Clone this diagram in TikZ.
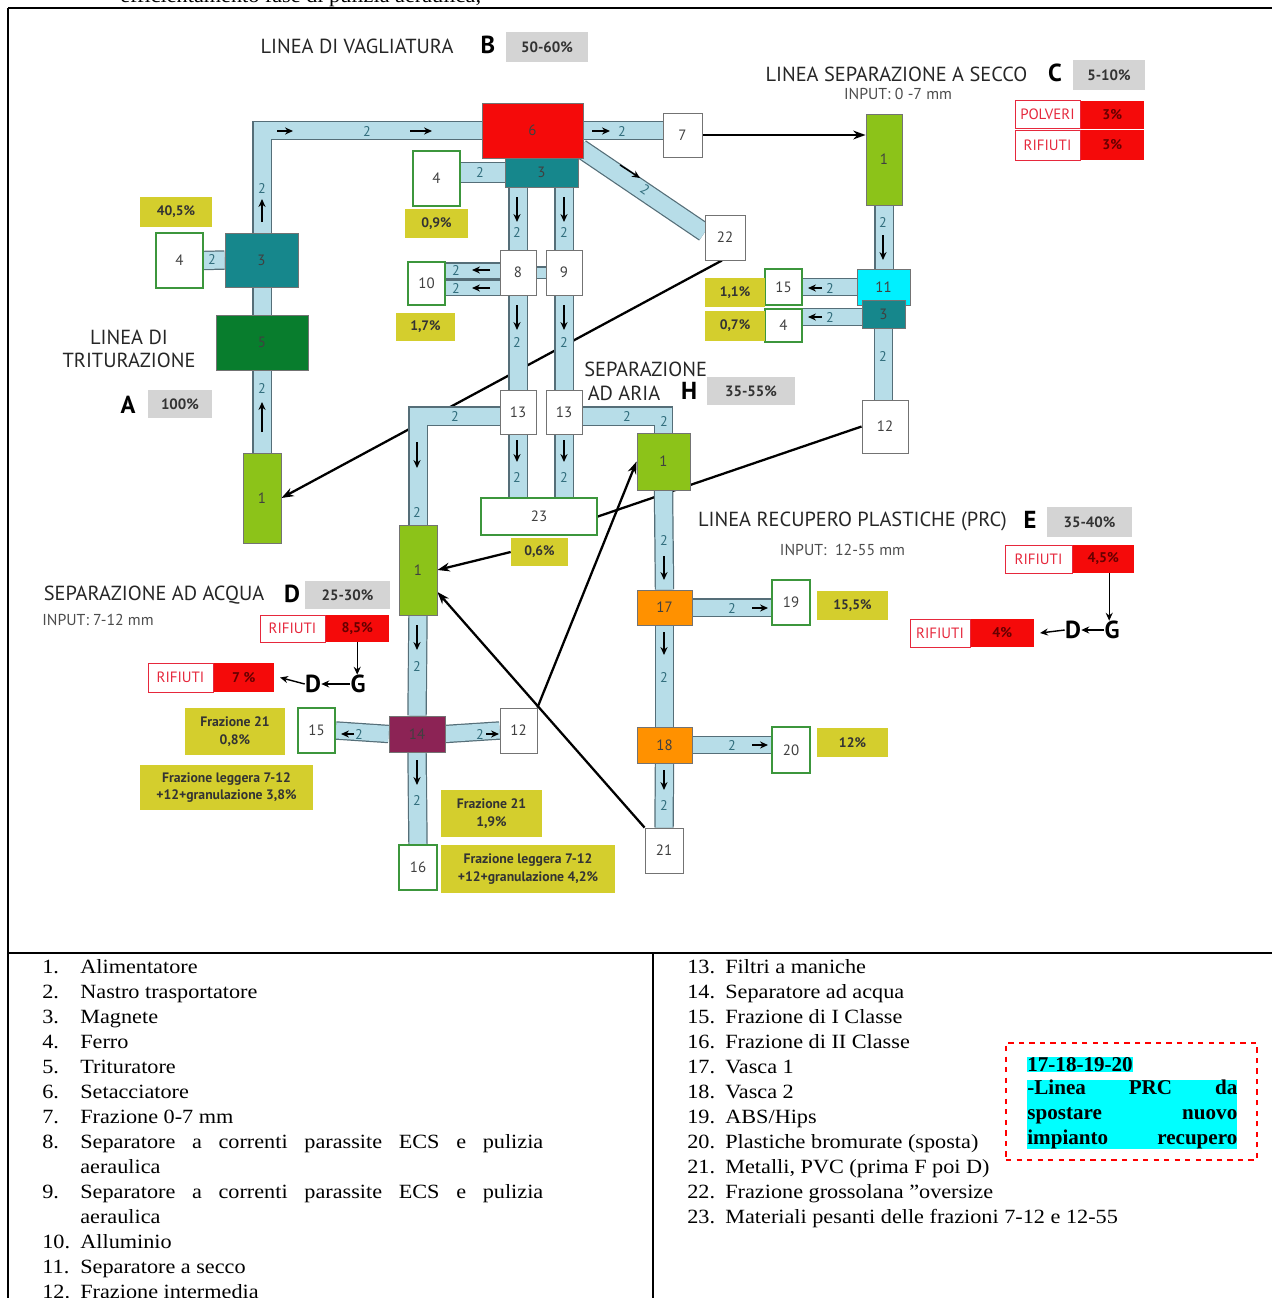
\documentclass[tikz,border=0pt]{standalone}
\usepackage{fontspec}
\setmainfont{Liberation Serif}
\newfontfamily\legendfont[FakeStretch=1.1]{Liberation Serif}
\newfontfamily\gillfont{PT Sans}
\usetikzlibrary{positioning,backgrounds,arrows.meta}

\definecolor{beltblue}{RGB}{183,221,232}
\definecolor{beltedge}{RGB}{85,110,120}
\definecolor{numteal}{RGB}{50,110,125}
\definecolor{feedgreen}{RGB}{140,195,25}
\definecolor{shredgreen}{RGB}{8,125,45}
\definecolor{magteal}{RGB}{22,135,140}
\definecolor{screenred}{RGB}{245,10,10}
\definecolor{dryblue}{RGB}{0,240,255}
\definecolor{tankorange}{RGB}{255,145,0}
\definecolor{waterplum}{RGB}{140,35,85}
\definecolor{pctyellow}{RGB}{212,206,45}
\definecolor{sharegray}{RGB}{212,212,212}
\definecolor{outgreen}{RGB}{60,150,60}
\definecolor{wastered}{RGB}{230,40,60}
\definecolor{hlcyan}{RGB}{0,255,255}

\tikzset{
  sz/.style 2 args={minimum width=#1*0.02cm, minimum height=#2*0.02cm},
  unitbox/.style={draw=black!55, line width=0.5pt, inner sep=0pt, text=black!75,
    font=\gillfont\fontsize{8.5}{10}\selectfont},
  plainbox/.style={unitbox, fill=white},
  outbox/.style={unitbox, fill=white, draw=outgreen, line width=1pt},
  fillbox/.style={unitbox, fill=#1},
  pct/.style={fill=pctyellow, inner sep=0pt, align=center, text=black!80,
    font=\gillfont\bfseries\fontsize{7.8}{10}\selectfont},
  share/.style={fill=sharegray, inner sep=0pt, text=black!80,
    font=\gillfont\bfseries\fontsize{8.5}{10}\selectfont},
  waste/.style={draw=wastered, fill=white, inner sep=0pt, text=wastered,
    font=\gillfont\fontsize{8.5}{10}\selectfont},
  wastepct/.style={fill=screenred, inner sep=0pt, text=black!60!red,
    font=\gillfont\bfseries\fontsize{8}{10}\selectfont},
  ttl/.style={inner sep=0pt, text=black!85, font=\gillfont\fontsize{11.6}{13.5}\selectfont},
  inputnote/.style={inner sep=0pt, text=black!70, font=\gillfont\fontsize{9}{10}\selectfont},
  letter/.style={inner sep=0pt, font=\gillfont\bfseries\fontsize{14}{16}\selectfont},
  belt/.style={draw=beltedge, line width=0.7pt, double=beltblue,
    double distance=#1*0.02cm, line join=miter},
  belt/.default=17,
  mark2/.style={inner sep=0pt, text=numteal, font=\gillfont\fontsize{8}{9}\selectfont},
  beltarrow/.style={-{Stealth[length=4.5pt,width=4pt]}, line width=0.8pt},
  flow/.style={-{Stealth[length=7pt,width=5pt]}, line width=1.3pt},
  item/.style={inner sep=0pt, anchor=base west, font=\legendfont\fontsize{11.5}{14}\selectfont},
  hl/.style={fill=hlcyan, inner sep=0pt, anchor=north west, font=\bfseries\fontsize{12}{14.2}\selectfont}
}

\begin{document}
\begin{tikzpicture}[x=0.02cm, y=-0.02cm]
\useasboundingbox (0,0) rectangle (1272,1298);

% frame of the page
\draw[line width=0.6pt] (8,8) -- (1158,8);
\draw[line width=1.4pt] (1158,8) -- (1272,8);
\draw[line width=1pt] (8,8) -- (8,1298);
\draw[line width=1.2pt] (8,953) -- (1272,953);
\draw[line width=1.2pt] (653,953) -- (653,1298);
\node[item] (cuttext) at (120,3) {efficientamento fase di pulizia aeraulica;};

% line A
\node[fillbox=feedgreen, sz={38}{90}] (feedA) at (262,498) {1};
\node[fillbox=shredgreen, sz={92}{55}] (shred) at (262,342.5) {5};
\node[fillbox=magteal, sz={73}{54}] (magA) at (261.5,260) {3};
\node[outbox, sz={47}{55}] (feA) at (179.5,260.5) {4};
\node[pct, sz={72}{30}] (pA) at (176,212) {40,5\%};
\node[ttl, align=center] (titA) at (129,349) {LINEA DI\\TRITURAZIONE};
\node[letter] (letA) at (128,405) {A};
\node[share, sz={64}{28}] (shA) at (180,404) {100\%};

% line B
\node[fillbox=screenred, sz={101}{55}] (screen) at (532.5,130.5) {6};
\node[fillbox=magteal, sz={73}{29}] (mag6) at (541.5,172.5) {3};
\node[outbox, sz={47}{55}] (fe6) at (436.5,178.5) {4};
\node[pct, sz={63}{29}] (p09) at (436.5,223.5) {0,9\%};
\node[plainbox, sz={39}{44}] (frac7) at (682.5,135) {7};
\node[plainbox, sz={40}{45}] (over) at (725,237.5) {22};
\node[plainbox, sz={36}{45}] (ecs8) at (518,272.5) {8};
\node[plainbox, sz={36}{45}] (ecs9) at (564,272.5) {9};
\node[outbox, sz={37}{43}] (al10) at (426.5,283.5) {10};
\node[pct, sz={59}{28}] (p17) at (425.5,327) {1,7\%};
\node[plainbox, sz={36}{44}] (fil13a) at (518,412) {13};
\node[plainbox, sz={36}{44}] (fil13b) at (564,412) {13};
\node[outbox, sz={116}{37}] (heavy) at (539,516.5) {23};
\node[pct, sz={57}{28}] (p06) at (539.5,552) {0,6\%};
\node[ttl] (titB) at (357,46) {LINEA DI VAGLIATURA};
\node[letter] (letB) at (488,45) {B};
\node[share, sz={82}{30}] (shB) at (547,47) {50-60\%};

% line H
\node[ttl, align=left, anchor=west] (titH) at (584,381) {SEPARAZIONE\\\,AD ARIA};
\node[letter] (letH) at (689,391) {H};
\node[share, sz={88}{28}] (shH) at (751,391) {35-55\%};

% line C
\node[fillbox=feedgreen, sz={36}{91}] (feedC) at (884,159.5) {1};
\node[fillbox=dryblue, sz={53}{36}] (dry11) at (883.5,287) {11};
\node[fillbox=magteal, sz={43}{28}] (magC) at (883.5,314) {3};
\node[outbox, sz={37}{36}] (cls15C) at (783.5,287) {15};
\node[outbox, sz={37}{33}] (fe4C) at (783.5,325.5) {4};
\node[pct, sz={60}{29}] (p11) at (735,292.5) {1,1\%};
\node[pct, sz={60}{30}] (p07) at (735,326) {0,7\%};
\node[plainbox, sz={46}{53}] (mid12) at (885,426.5) {12};
\node[ttl] (titC) at (896.5,74) {LINEA SEPARAZIONE A SECCO};
\node[letter] (letC) at (1055,73) {C};
\node[share, sz={72}{30}] (shC) at (1109,75) {5-10\%};
\node[inputnote] (inC) at (898,94) {INPUT: 0 -7 mm};
\node[waste, sz={65}{28}] (polv) at (1047.5,114.5) {POLVERI};
\node[wastepct, sz={63}{28}, right=0pt of polv] (polvP) {3\%};
\node[waste, sz={65}{30}] (rifC) at (1047.5,145) {RIFIUTI};
\node[wastepct, sz={63}{30}, right=0pt of rifC] (rifCP) {3\%};

% line D
\node[fillbox=feedgreen, sz={38}{90}] (feedD) at (418,570) {1};
\node[fillbox=waterplum, sz={56}{36}] (wat14) at (417,734) {14};
\node[outbox, sz={37}{45}] (cls15) at (316.5,730.5) {15};
\node[plainbox, sz={37}{45}] (fr12) at (518.5,730.5) {12};
\node[outbox, sz={38}{45}] (cls16) at (418,867.5) {16};
\node[pct, sz={100}{47}] (pD1) at (235,731.5) {Frazione 21\\0,8\%};
\node[pct, sz={173}{45}] (pD2) at (226.5,787.5) {Frazione leggera 7-12\\+12+granulazione 3,8\%};
\node[pct, sz={101}{47}] (pD3) at (491.5,813.5) {Frazione 21\\1,9\%};
\node[pct, sz={174}{48}] (pD4) at (528,869) {Frazione leggera 7-12\\+12+granulazione 4,2\%};
\node[ttl] (titD) at (154,595) {SEPARAZIONE AD ACQUA};
\node[letter] (letD) at (292,594) {D};
\node[share, sz={85}{28}] (shD) at (347.5,595) {25-30\%};
\node[inputnote, anchor=west] (inD) at (42,620) {INPUT: 7-12 mm};
\node[waste, sz={65}{27}] (rifD1) at (292.5,628.5) {RIFIUTI};
\node[wastepct, sz={63}{27}, right=0pt of rifD1] (rifD1P) {8,5\%};
\node[waste, sz={65}{29}] (rifD2) at (180.5,677.5) {RIFIUTI};
\node[wastepct, sz={60}{29}, right=0pt of rifD2] (rifD2P) {7 \%};
\node[letter] (dD) at (313,684) {D};
\node[letter] (gD) at (358,684) {G};
\draw[beltarrow] (gD.west) -- (dD.east);
\draw[beltarrow] (dD.west) -- ([xshift=0.12cm]rifD2P.east);
\draw[beltarrow] (rifD1P.south) -- (rifD1P.south |- gD.north);

% line E
\node[fillbox=feedgreen, sz={53}{57}] (feedE) at (663.5,461.5) {1};
\node[fillbox=tankorange, sz={55}{35}] (vas17) at (664.5,607.5) {17};
\node[outbox, sz={38}{45}] (abs19) at (791,602.5) {19};
\node[pct, sz={71}{29}] (p155) at (852.5,605.5) {15,5\%};
\node[fillbox=tankorange, sz={55}{36}] (vas18) at (664.5,745) {18};
\node[outbox, sz={38}{46}] (bro20) at (791,750) {20};
\node[pct, sz={71}{29}] (p12) at (852.5,742.5) {12\%};
\node[plainbox, sz={38}{45}] (met21) at (664,850.5) {21};
\node[ttl] (titE) at (852.5,521) {LINEA RECUPERO PLASTICHE (PRC)};
\node[letter] (letE) at (1030,520) {E};
\node[share, sz={85}{30}] (shE) at (1089.5,522) {35-40\%};
\node[inputnote] (inE) at (842.5,550) {INPUT:\ \ 12-55 mm};
\node[waste, sz={67}{28}] (rifE1) at (1038.5,559) {RIFIUTI};
\node[wastepct, sz={61}{28}, right=0pt of rifE1] (rifE1P) {4,5\%};
\node[waste, sz={60}{28}] (rifE2) at (940,633) {RIFIUTI};
\node[wastepct, sz={63}{28}, right=0pt of rifE2] (rifE2P) {4\%};
\node[letter] (dE) at (1073,630) {D};
\node[letter] (gE) at (1112,630) {G};
\draw[beltarrow] (gE.west) -- (dE.east);
\draw[beltarrow] (dE.west) -- ([xshift=0.12cm]rifE2P.east);
\draw[beltarrow] ([xshift=0.12cm]rifE1P.south) -- ([xshift=0.12cm]rifE1P.south |- gE.north);

\begin{pgfonlayer}{background}
  % flows between lines
  \draw[flow] (frac7.east) -- (frac7.east -| feedC.west);
  \draw[flow] ([xshift=-0.06cm]over.south) -- (feedA.east);
  \draw[line width=1.3pt] (mid12.west) -- (heavy.east);
  \draw[flow] (fr12.north east) -- (feedE.west);
  \draw[flow] (met21.north west) -- ([yshift=-0.44cm]feedD.east);
  \draw[flow] (p06.west) -- (feedD.east);
  % conveyors
  \draw[belt] (feedA.north) |- (screen.west);
  \draw[belt] (feA.east) -- (magA.west);
  \draw[belt] (screen.east) -- (screen.east -| frac7.west);
  \draw[belt] ([yshift=0.2cm,xshift=-0.06cm]screen.south east) -- ([yshift=0.1cm]over.west);
  \draw[belt=19] (mag6.west -| fe6.east) -- (mag6.west);
  \draw[belt] (mag6.south -| ecs8.north) -- (ecs8.north);
  \draw[belt] (mag6.south -| ecs9.north) -- (ecs9.north);
  \draw[belt=10] (ecs8.east) -- (ecs9.west);
  \draw[belt=14] ([yshift=0.04cm]ecs8.west) -- ([yshift=0.04cm]ecs8.west -| al10.east);
  \draw[belt=14] ([yshift=-0.3cm]ecs8.west) -- ([yshift=-0.3cm]ecs8.west -| al10.east);
  \draw[belt] (ecs8.south) -- (fil13a.north);
  \draw[belt] (ecs9.south) -- (fil13b.north);
  \draw[belt] ([yshift=-0.08cm]fil13a.west) -| (feedD.north);
  \draw[belt] ([yshift=-0.08cm]fil13b.east) -| (feedE.north);
  \draw[belt] (fil13a.south) -- (fil13a.south |- heavy.north);
  \draw[belt] (fil13b.south) -- (fil13b.south |- heavy.north);
  \draw[belt] (feedD.south) -- (wat14.north);
  \draw[belt=16] (wat14.west) -- (cls15.east);
  \draw[belt=16] (wat14.east) -- (fr12.west);
  \draw[belt] (wat14.south) -- (cls16.north);
  \draw[belt] (feedE.south) -- (vas17.north);
  \draw[belt=16] (vas17.east) -- (vas17.east -| abs19.west);
  \draw[belt] (vas17.south) -- (vas18.north);
  \draw[belt=16] (vas18.east) -- (vas18.east -| bro20.west);
  \draw[belt] (vas18.south) -- (met21.north);
  \draw[belt] (feedC.south) -- (feedC.south |- dry11.north);
  \draw[belt=16] (dry11.west) -- (dry11.west -| cls15C.east);
  \draw[belt=16] ([yshift=-0.06cm]magC.west) -- ([yshift=-0.06cm]magC.west -| fe4C.east);
  \draw[belt] (magC.south) -- (magC.south |- mid12.north);
\end{pgfonlayer}

% conveyor numbers and directions
\foreach \px/\py [count=\k] in {262/188, 262/388, 367/131, 622/131, 480/172, 212/259,
    517/232, 564/232, 456/270, 456/288, 517/342, 564/342, 455/416, 627/416, 664/421,
    417/512, 517/477, 564/477, 417/666, 359/734, 480/734, 417/800, 664/540, 664/677,
    732/608, 664/805, 732/745, 883/222, 830/288, 830/317, 883/356}
  \node[mark2] (two\k) at (\px,\py) {2};
\node[mark2, rotate=-35] (twodiag) at (645,190) {2};
\foreach \ax/\ay/\bx/\by in {262/222/262/199, 262/432/262/402, 277/131/293/131,
    410/131/432/131, 592/131/610/131, 620/165/640/178, 517/197/517/222, 564/197/564/222,
    490/270/472/270, 490/288/472/288, 517/305/517/330, 564/305/564/330, 517/440/517/462,
    564/440/564/462, 417/442/417/468, 417/625/417/650, 354/734/341/734, 486/734/499/734,
    417/760/417/785, 664/556/664/580, 752/608/768/608, 664/632/664/655, 752/745/768/745,
    664/770/664/790, 883/235/883/260, 822/288/808/288, 822/317/808/317}
  \draw[beltarrow] (\ax,\ay) -- (\bx,\by);

% legend
\foreach \t [count=\i] in {Alimentatore,Nastro trasportatore,Magnete,Ferro,
    Trituratore,Setacciatore,Frazione 0-7 mm}
  {\node[item] (ln\i) at (42,{948+25*\i}) {\i.};
   \node[item] (lg\i) at (80,{948+25*\i}) {\t};}
\node[item] (ln8) at (42,1148) {8.};
\node[item] (lg8) at (80,1148) {\makebox[9.26cm][s]{Separatore a correnti parassite ECS e pulizia}};
\node[item] (lg8b) at (80,1173) {aeraulica};
\node[item] (ln9) at (42,1198) {9.};
\node[item] (lg9) at (80,1198) {\makebox[9.26cm][s]{Separatore a correnti parassite ECS e pulizia}};
\node[item] (lg9b) at (80,1223) {aeraulica};
\foreach \t [count=\i from 10] in {Alluminio,Separatore a secco,Frazione intermedia}
  {\node[item] (ln\i) at (42,{1248+25*(\i-10)}) {\i.};
   \node[item] (lg\i) at (80,{1248+25*(\i-10)}) {\t};}
\foreach \t [count=\i from 13] in {Filtri a maniche,Separatore ad acqua,
    Frazione di I Classe,Frazione di II Classe,Vasca 1,Vasca 2,{ABS/Hips},
    Plastiche bromurate (sposta),{Metalli, PVC (prima F poi D)},
    Frazione grossolana ”oversize,Materiali pesanti delle frazioni 7-12 e 12-55}
  {\node[item] (ln\i) at (687,{973+25*(\i-13)}) {\i.};
   \node[item] (lg\i) at (725,{973+25*(\i-13)}) {\t};}

% note on the PRC line
\node[draw=red, dashed, line width=0.8pt, sz={251}{117}] (prcnote) at (1131.5,1101.5) {};
\node[hl] (prchead) at (1027,1057) {17-18-19-20};
\node[hl, text width=4.2cm, align=left] (prcbody) at (1027,1080)
  {\makebox[4.2cm]{-Linea\hfill PRC\hfill da}\\
   \makebox[4.2cm]{spostare\hfill nuovo}\\
   \makebox[4.2cm]{impianto\hfill recupero}};
\end{tikzpicture}
\end{document}
